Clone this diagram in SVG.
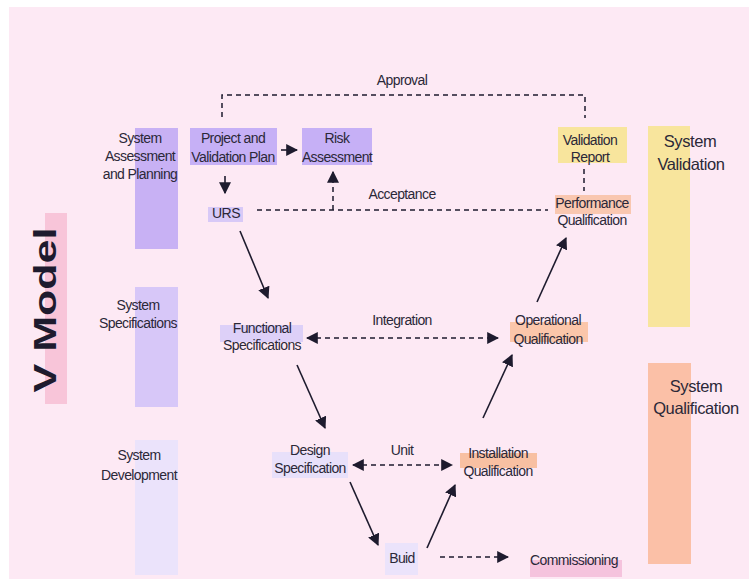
<svg xmlns="http://www.w3.org/2000/svg" width="749" height="580" viewBox="0 0 749 580">
<style>
.t{font-family:"Liberation Sans",Arial,sans-serif;font-size:14px;fill:#2b2838;letter-spacing:-0.6px;text-anchor:middle}
.c{font-family:"Liberation Sans",Arial,sans-serif;font-size:14px;fill:#2b2838;letter-spacing:-0.6px;text-anchor:middle}
.big{font-family:"Liberation Sans",Arial,sans-serif;font-size:16.5px;fill:#2b2838;letter-spacing:-0.4px;text-anchor:middle}
.ln{stroke:#1e1b2e;stroke-width:1.6;fill:none}
.ds{stroke:#1e1b2e;stroke-width:1.5;fill:none;stroke-dasharray:5 4}
.ar{marker-end:url(#ah)}
.ar2{marker-start:url(#ah);marker-end:url(#ah)}
</style>
<defs>
<marker id="ah" viewBox="0 0 10 10" refX="9" refY="5" markerWidth="12" markerHeight="12" markerUnits="userSpaceOnUse" orient="auto-start-reverse">
<path d="M0,0 L10,5 L0,10 z" fill="#1e1b2e"/>
</marker>
</defs>
<rect width="749" height="580" fill="#ffffff"/>
<rect x="9" y="7" width="740" height="572" fill="#fde9f4"/>

<g id="vmodel">
<rect x="45" y="213" width="22" height="191" fill="#f8c5d9"/>
<text transform="translate(56,310) rotate(-90)" x="0" y="0" font-family="Liberation Sans, Arial, sans-serif" font-size="31" font-weight="bold" fill="#1e1b2e" text-anchor="middle" textLength="165" lengthAdjust="spacingAndGlyphs">V Model</text>
</g>

<g id="sys-assessment">
<rect x="135" y="128" width="43" height="121" fill="#c8b1f4"/>
<text class="c" x="140" y="143">System</text>
<text class="c" x="140" y="161">Assessment</text>
<text class="c" x="140" y="179">and Planning</text>
</g>
<g id="sys-spec">
<rect x="135" y="287" width="43" height="120" fill="#d7c7f8"/>
<text class="c" x="138" y="310">System</text>
<text class="c" x="138" y="328">Specifications</text>
</g>
<g id="sys-dev">
<rect x="135" y="440" width="43" height="135" fill="#ebe3fb"/>
<text class="c" x="139" y="460">System</text>
<text class="c" x="139" y="480">Development</text>
</g>
<g id="sys-validation">
<rect x="648" y="126" width="42" height="201" fill="#f8e59d"/>
<text class="big" x="690" y="147">System</text>
<text class="big" x="691" y="170">Validation</text>
</g>
<g id="sys-qualification">
<rect x="648" y="363" width="43" height="201" fill="#fbc0a7"/>
<text class="big" x="696" y="392">System</text>
<text class="big" x="696" y="414">Qualification</text>
</g>

<g id="pvp">
<rect x="190" y="128" width="87" height="37" fill="#c6b0f6"/>
<text class="t" x="233" y="143">Project and</text>
<text class="t" x="233" y="162">Validation Plan</text>
</g>
<g id="risk">
<rect x="302" y="128" width="70" height="37" fill="#c6b0f6"/>
<text class="t" x="337" y="143">Risk</text>
<text class="t" x="337" y="162">Assessment</text>
</g>
<g id="urs">
<rect x="208" y="207" width="35" height="15" fill="#d8c9f7"/>
<text class="t" x="226" y="218">URS</text>
</g>
<g id="validation-report">
<rect x="558" y="127" width="69" height="36" fill="#f8e59d"/>
<text class="t" x="590" y="145">Validation</text>
<text class="t" x="590" y="162">Report</text>
</g>
<g id="pq">
<rect x="555" y="195" width="76" height="19" fill="#f9c7b0"/>
<text class="t" x="592" y="208">Performance</text>
<text class="t" x="592" y="225">Qualification</text>
</g>
<g id="fs">
<rect x="220" y="325" width="83" height="17" fill="#ddd0f8"/>
<text class="t" x="262" y="333">Functional</text>
<text class="t" x="262" y="350">Specifications</text>
</g>
<g id="oq">
<rect x="510" y="322" width="78" height="20" fill="#fbc6aa"/>
<text class="t" x="548" y="325">Operational</text>
<text class="t" x="548" y="344">Qualification</text>
</g>
<g id="ds">
<rect x="272" y="452" width="76" height="26" fill="#e8e0fa"/>
<text class="t" x="310" y="455">Design</text>
<text class="t" x="310" y="473">Specification</text>
</g>
<g id="iq">
<rect x="460" y="453" width="77" height="15" fill="#f8c0a2"/>
<text class="t" x="498" y="458">Installation</text>
<text class="t" x="498" y="476">Qualification</text>
</g>
<g id="build">
<rect x="385" y="543" width="33" height="32" fill="#ebe3fb"/>
<text class="t" x="402" y="563">Buid</text>
</g>
<g id="commissioning">
<rect x="530" y="560" width="92" height="17" fill="#f5c3dd"/>
<text class="t" x="574" y="565">Commissioning</text>
</g>

<g id="connectors">
<polyline class="ds" points="222,117 222,95 585,95 585,118"/>
<text class="t" x="402" y="85">Approval</text>
<line class="ln ar" x1="281" y1="150" x2="297" y2="150"/>
<line class="ln ar" x1="225" y1="176" x2="225" y2="193"/>
<line class="ds" x1="257" y1="210" x2="548" y2="210"/>
<line class="ds ar" x1="333" y1="210" x2="333" y2="172"/>
<text class="t" x="402" y="199">Acceptance</text>
<line class="ds" x1="584" y1="169" x2="584" y2="191"/>
<line class="ln ar" x1="240" y1="231" x2="268" y2="298"/>
<line class="ds ar2" x1="307" y1="338" x2="498" y2="338"/>
<text class="t" x="402" y="325">Integration</text>
<line class="ln ar" x1="537" y1="302" x2="566" y2="238"/>
<line class="ln ar" x1="297" y1="365" x2="325" y2="428"/>
<line class="ln ar" x1="483" y1="418" x2="512" y2="355"/>
<line class="ds ar2" x1="353" y1="465" x2="452" y2="465"/>
<text class="t" x="402" y="455">Unit</text>
<line class="ln ar" x1="350" y1="482" x2="378" y2="545"/>
<line class="ln ar" x1="427" y1="548" x2="455" y2="485"/>
<line class="ds ar" x1="440" y1="557" x2="508" y2="557"/>
</g>
</svg>
